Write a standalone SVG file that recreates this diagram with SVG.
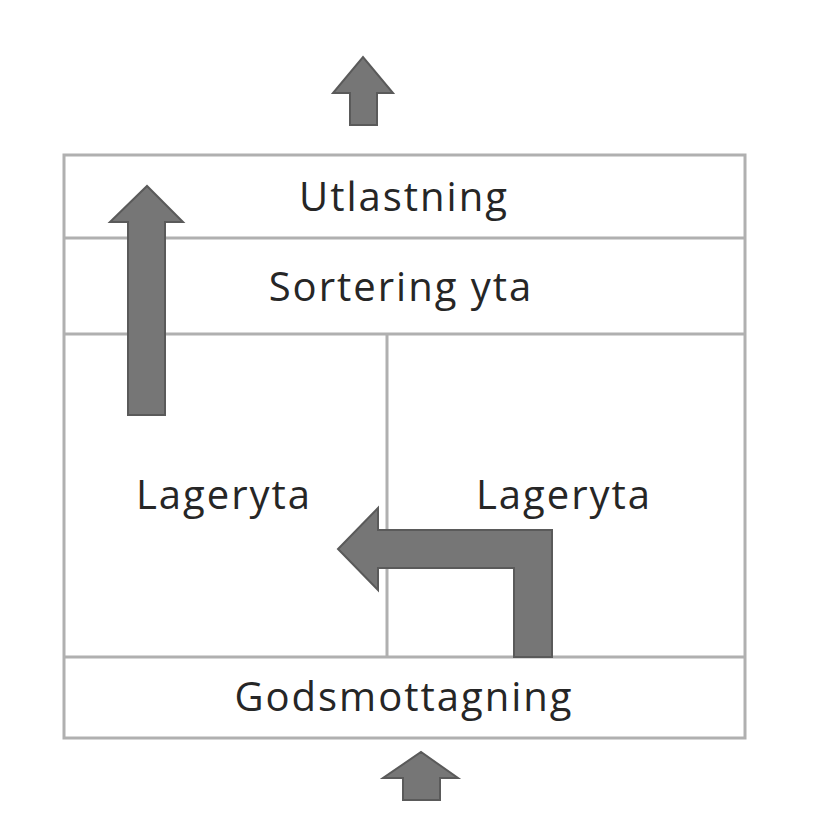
<svg xmlns="http://www.w3.org/2000/svg" width="838" height="820" viewBox="0 0 838 820">
<style>
.box{fill:#fff;stroke:#b0b0b0;stroke-width:3}
.ln{stroke:#b0b0b0;stroke-width:3}
.ar{fill:#767676;stroke:#5a5a5a;stroke-width:2}
text{font-family:"Open Sans","Liberation Sans",sans-serif;font-size:40px;letter-spacing:2px;fill:#262626;text-anchor:middle}
</style>
<rect width="838" height="820" fill="#fff"/>
<g id="frame">
<rect class="box" x="64" y="155" width="681" height="583"/>
<line class="ln" x1="64" y1="238" x2="745" y2="238"/>
<line class="ln" x1="64" y1="334" x2="745" y2="334"/>
<line class="ln" x1="64" y1="657" x2="745" y2="657"/>
<line class="ln" x1="387" y1="334" x2="387" y2="657"/>
</g>
<g id="utlastning"><text x="404" y="211">Utlastning</text></g>
<g id="sortering"><text x="401" y="301">Sortering yta</text></g>
<g id="lager1"><text x="224" y="509">Lageryta</text></g>
<g id="lager2"><text x="564" y="509">Lageryta</text></g>
<g id="gods"><text x="404" y="711">Godsmottagning</text></g>
<g id="connectors">
<polygon class="ar" points="350,125 377,125 377,93 393,93 363,57 333,93 350,93"/>
<polygon class="ar" points="128,415 165,415 165,222 183,222 147,186 110,222 128,222"/>
<polygon class="ar" points="514,657 552,657 552,530 378,530 378,508 338,549 378,590 378,568 514,568"/>
<polygon class="ar" points="403,800 440,800 440,778 458,778 421,752 383,778 403,778"/>
</g>
</svg>
